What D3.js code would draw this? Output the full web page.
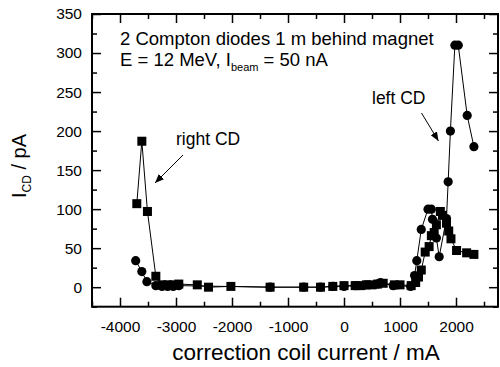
<!DOCTYPE html>
<html>
<head>
<meta charset="utf-8">
<script src="https://cdn.jsdelivr.net/npm/d3@7"></script>
<style>
  body { margin: 0; background: #fff; }
  svg { display: block; font-family: Arial, "Liberation Sans", sans-serif; }
</style>
</head>
<body>
<svg id="chart" width="500" height="367"></svg>
<script>
// right CD (squares)
const rightX = [-3700, -3610, -3510, -3360, -3250, -3150, -3050, -2950, -2620, -2420, -2020, -1320, -720, -420, -200, 0,
  200, 300, 400, 500, 600, 700, 900, 1000, 1200, 1280, 1330, 1380, 1450, 1520, 1560, 1610, 1650, 1720, 1760, 1830, 1870,
  1910, 2010, 2190, 2320];
const rightY = [107, 187, 97, 14, 3, 3, 3, 4, 3, 0, 1, 0, 0, 0, 1, 2,
  2, 2, 3, 3, 4, 5, 3, 3, 2, 6, 13, 22, 45, 52, 66, 70, 80, 97, 92, 82, 72,
  62, 47, 44, 42];

// left CD (circles)
const leftX = [-3720, -3610, -3520, -3360, -3250, -3150, -3050, -2950, -1320, -720, -420, -200, 0, 200, 400, 600, 650,
  880, 1190, 1260, 1300, 1380, 1500, 1560, 1580, 1650, 1700, 1830, 1860, 1900, 1980, 2040, 2200, 2320];
const leftY = [34, 20, 7, 2, 1, 1, 1, 2, 0, 0, 0, 1, 1, 2, 3, 4, 6,
  2, 1, 15, 34, 74, 100, 100, 87, 63, 39, 88, 135, 200, 310, 310, 220, 180];

const xTicks = [-4000, -3000, -2000, -1000, 0, 1000, 2000];
const xMinor = [-4500, -3500, -2500, -1500, -500, 500, 1500, 2500];
const yTicks = [0, 50, 100, 150, 200, 250, 300, 350];
const yMinor = [-25, 25, 75, 125, 175, 225, 275, 325];

const width = 500, height = 367;
const margin = { top: 14, right: 2, bottom: 60.3, left: 92 };

const svg = d3.select('#chart');

const x = d3.scaleLinear()
  .domain([-4500, 2750])
  .range([margin.left, width - margin.right]);
const y = d3.scaleLinear()
  .domain([-25, 350])
  .range([height - margin.bottom, margin.top]);

const x0 = margin.left, x1 = width - margin.right;
const y0 = height - margin.bottom, y1 = margin.top;
const plain = d => String(d); // keep ascii hyphen, no thousands comma

// axes, ticks pointing inward
function styleAxis(g) {
  g.select('.domain').remove();
  g.selectAll('.tick line').attr('stroke', '#000').attr('stroke-width', 1.5);
  g.selectAll('.tick text').attr('fill', '#000').style('font-size', '15.5px');
}

svg.append('g')
  .attr('transform', `translate(0,${y0})`)
  .call(d3.axisBottom(x).tickValues(xTicks).tickFormat(plain).tickSizeInner(-9).tickSizeOuter(0).tickPadding(14))
  .call(styleAxis);
svg.append('g')
  .attr('transform', `translate(0,${y0})`)
  .call(d3.axisBottom(x).tickValues(xMinor).tickFormat('').tickSizeInner(-5).tickSizeOuter(0))
  .call(styleAxis);
svg.append('g')
  .attr('transform', `translate(0,${y1})`)
  .call(d3.axisTop(x).tickValues(xTicks).tickFormat('').tickSizeInner(-9).tickSizeOuter(0))
  .call(styleAxis);
svg.append('g')
  .attr('transform', `translate(0,${y1})`)
  .call(d3.axisTop(x).tickValues(xMinor).tickFormat('').tickSizeInner(-5).tickSizeOuter(0))
  .call(styleAxis);

svg.append('g')
  .attr('transform', `translate(${x0},0)`)
  .call(d3.axisLeft(y).tickValues(yTicks).tickFormat(plain).tickSizeInner(-9).tickSizeOuter(0).tickPadding(10))
  .call(styleAxis);
svg.append('g')
  .attr('transform', `translate(${x0},0)`)
  .call(d3.axisLeft(y).tickValues(yMinor).tickFormat('').tickSizeInner(-5).tickSizeOuter(0))
  .call(styleAxis);
svg.append('g')
  .attr('transform', `translate(${x1},0)`)
  .call(d3.axisRight(y).tickValues(yTicks).tickFormat('').tickSizeInner(-9).tickSizeOuter(0))
  .call(styleAxis);
svg.append('g')
  .attr('transform', `translate(${x1},0)`)
  .call(d3.axisRight(y).tickValues(yMinor).tickFormat('').tickSizeInner(-5).tickSizeOuter(0))
  .call(styleAxis);

// frame
svg.append('rect')
  .attr('x', x0).attr('y', y1)
  .attr('width', x1 - x0).attr('height', y0 - y1)
  .attr('fill', 'none')
  .attr('stroke', '#000')
  .attr('stroke-width', 2);

// data
const right = rightX.map((d, i) => [d, rightY[i]]);
const left = leftX.map((d, i) => [d, leftY[i]]);

const line = d3.line().x(d => x(d[0])).y(d => y(d[1]));

svg.append('path').datum(right)
  .attr('d', line).attr('fill', 'none').attr('stroke', '#000').attr('stroke-width', 1);
svg.append('path').datum(left)
  .attr('d', line).attr('fill', 'none').attr('stroke', '#000').attr('stroke-width', 1);

svg.append('g').selectAll('rect')
  .data(right)
  .enter()
  .append('rect')
  .attr('x', d => x(d[0]) - 4.5)
  .attr('y', d => y(d[1]) - 4.5)
  .attr('width', 9)
  .attr('height', 9)
  .attr('fill', '#000');

svg.append('g').selectAll('circle')
  .data(left)
  .enter()
  .append('circle')
  .attr('cx', d => x(d[0]))
  .attr('cy', d => y(d[1]))
  .attr('r', 4.6)
  .attr('fill', '#000');

// axis titles
svg.append('text')
  .attr('x', 306)
  .attr('y', 360)
  .attr('text-anchor', 'middle')
  .style('font-size', '22.5px')
  .text('correction coil current / mA');

const yTitle = svg.append('text')
  .attr('transform', 'translate(26,166) rotate(-90)')
  .attr('text-anchor', 'middle')
  .style('font-size', '20px');
yTitle.append('tspan').text('I');
yTitle.append('tspan').attr('dy', 5).style('font-size', '12px').text('CD');
yTitle.append('tspan').attr('dy', -5).text(' / pA');

// annotations
svg.append('text')
  .attr('x', 120).attr('y', 45)
  .style('font-size', '18.5px')
  .text('2 Compton diodes 1 m behind magnet');

const t2 = svg.append('text')
  .attr('x', 120).attr('y', 66)
  .style('font-size', '18.5px');
t2.append('tspan').text('E = 12 MeV, I');
t2.append('tspan').attr('dy', 5).style('font-size', '11px').text('beam');
t2.append('tspan').attr('dy', -5).text(' = 50 nA');

svg.append('defs').append('marker')
  .attr('id', 'arrow')
  .attr('viewBox', '0 0 10 10')
  .attr('refX', 10).attr('refY', 5)
  .attr('markerWidth', 9).attr('markerHeight', 9)
  .attr('markerUnits', 'userSpaceOnUse')
  .attr('orient', 'auto')
  .append('path')
  .attr('d', 'M0,1 L10,5 L0,9 Z')
  .attr('fill', '#000');

svg.append('text')
  .attr('x', 176).attr('y', 145)
  .style('font-size', '17.5px')
  .text('right CD');
svg.append('line')
  .attr('x1', 183).attr('y1', 155)
  .attr('x2', 155).attr('y2', 183)
  .attr('stroke', '#000').attr('stroke-width', 1)
  .attr('marker-end', 'url(#arrow)');

svg.append('text')
  .attr('x', 372).attr('y', 104)
  .style('font-size', '17.5px')
  .text('left CD');
svg.append('line')
  .attr('x1', 421.5).attr('y1', 113)
  .attr('x2', 438.5).attr('y2', 141)
  .attr('stroke', '#000').attr('stroke-width', 1)
  .attr('marker-end', 'url(#arrow)');
</script>
</body>
</html>
